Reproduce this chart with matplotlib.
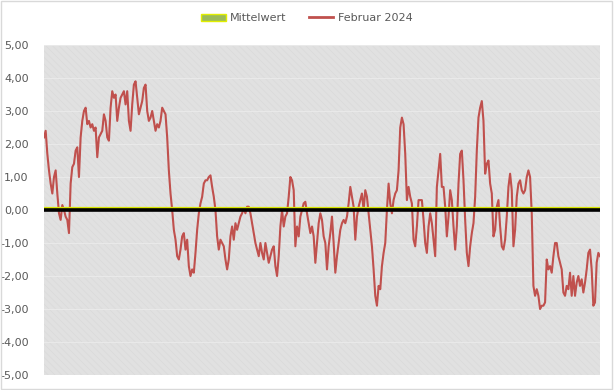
import matplotlib.pyplot as plt
import matplotlib.patches as mpatches
from matplotlib.lines import Line2D
from matplotlib.ticker import FuncFormatter
import numpy as np

seg1 = [2.2, 2.4, 1.7, 1.2, 0.8, 0.5, 1.0, 1.2, 0.5, -0.1, -0.3, 0.15, 0.0, -0.2, -0.3, -0.7,
        0.8, 1.3, 1.4, 1.8, 1.9, 1.0, 2.2, 2.7, 3.0, 3.1, 2.6, 2.7, 2.5, 2.6, 2.4, 2.5,
        1.6, 2.2, 2.3, 2.4, 2.9, 2.7, 2.2, 2.1, 3.1, 3.6, 3.4, 3.5, 2.7, 3.1, 3.4, 3.5]
seg2 = [3.6, 3.2, 3.6, 2.7, 2.4, 3.2, 3.8, 3.9, 3.4, 2.9, 3.1, 3.3, 3.7, 3.8, 3.0, 2.7,
        2.8, 3.0, 2.7, 2.4, 2.6, 2.5, 2.7, 3.1, 3.0, 2.9, 2.2, 1.2, 0.5, 0.0, -0.6, -0.9,
        -1.4, -1.5, -1.2, -0.8, -0.7, -1.2, -0.9, -1.7, -2.0, -1.8, -1.9, -1.3, -0.6, -0.1, 0.2, 0.4]
seg3 = [0.8, 0.9, 0.9, 1.0, 1.05, 0.7, 0.4, 0.0, -0.8, -1.2, -0.9, -1.0, -1.1, -1.5, -1.8, -1.5,
        -0.8, -0.5, -0.9, -0.4, -0.6, -0.4, -0.2, -0.1, 0.05, -0.1, 0.1, 0.1, -0.1, -0.4, -0.7, -1.0,
        -1.2, -1.4, -1.0, -1.3, -1.5, -1.0, -1.3, -1.6, -1.4, -1.2, -1.1, -1.7, -2.0, -1.4, -0.5, 0.0]
seg4 = [-0.5, -0.2, -0.1, 0.4, 1.0, 0.9, 0.6, -1.1, -0.5, -0.8, -0.2, 0.0, 0.2, 0.25, -0.1, -0.4,
        -0.7, -0.5, -0.8, -1.6, -1.0, -0.4, -0.1, -0.3, -0.8, -1.0, -1.8, -1.1, -0.7, -0.2, -1.0, -1.9,
        -1.4, -1.0, -0.6, -0.4, -0.3, -0.4, -0.2, 0.2, 0.7, 0.4, 0.1, -0.9, -0.2, 0.1, 0.3, 0.5]
seg5 = [0.0, 0.6, 0.4, -0.1, -0.6, -1.1, -1.8, -2.6, -2.9, -2.3, -2.4, -1.7, -1.3, -1.0, 0.0, 0.8,
        0.2, -0.1, 0.3, 0.5, 0.6, 1.2, 2.5, 2.8, 2.6, 1.7, 0.3, 0.7, 0.4, 0.2, -0.9, -1.1,
        -0.5, 0.3, 0.3, 0.3, -0.3, -1.0, -1.3, -0.5, -0.1, -0.4, -0.9, -1.4, 0.7, 1.2, 1.7, 0.7]
seg6 = [0.7, 0.1, -0.8, -0.2, 0.6, 0.3, -0.5, -1.2, -0.5, 0.8, 1.7, 1.8, 0.9, -0.3, -1.3, -1.7,
        -1.1, -0.7, -0.4, 0.4, 1.8, 2.8, 3.1, 3.3, 2.7, 1.1, 1.4, 1.5, 0.8, 0.5, -0.8, -0.6,
        0.1, 0.3, -0.5, -1.1, -1.2, -0.9, -0.2, 0.7, 1.1, 0.6, -1.1, -0.6, 0.4, 0.8, 0.9, 0.6]
seg7 = [0.5, 0.6, 1.0, 1.2, 1.0, -0.1, -2.3, -2.6, -2.4, -2.6, -3.0, -2.9, -2.9, -2.8, -1.5, -1.8,
        -1.7, -1.9, -1.4, -1.0, -1.0, -1.4, -1.6, -1.8, -2.5, -2.6, -2.3, -2.4, -1.9, -2.6, -2.0, -2.6,
        -2.2, -2.0, -2.3, -2.1, -2.5, -2.2, -1.8, -1.3, -1.2, -1.8, -2.9, -2.8, -1.6, -1.3, -1.4]
februar = seg1 + seg2 + seg3 + seg4 + seg5 + seg6 + seg7
mittelwert = 0.0
y_ticks = [5, 4, 3, 2, 1, 0, -1, -2, -3, -4, -5]

fig = plt.figure(figsize=(6.14, 3.90), dpi=100)
ax = fig.add_axes([44 / 614, 15 / 390, 556 / 614, 330 / 390])

plt.rcParams['hatch.linewidth'] = 0.5
ax.set_facecolor('#e1e1e1')
ax.add_patch(mpatches.Rectangle((0, 0), 1, 1, transform=ax.transAxes, facecolor='none',
                                edgecolor='#dadada', hatch='\\\\\\\\\\', lw=0, zorder=0))

x = np.arange(len(februar))
for t in y_ticks:
    ax.axhline(t, color='#e9e9e9', lw=0.8, zorder=1)

ax.plot(x, februar, color='#c0504d', lw=1.5, zorder=3)
ax.axhline(mittelwert + 0.06, color='#d8e600', lw=1.6, zorder=4)
ax.axhline(0, color='black', lw=2.6, zorder=5)

ax.set_xlim(0, len(februar) - 1)
ax.set_ylim(-5, 5)
ax.set_xticks([])
ax.set_yticks(y_ticks)
ax.yaxis.set_major_formatter(FuncFormatter(lambda v, p: f"{v:.2f}".replace('.', ',')))
ax.tick_params(axis='y', length=0, labelsize=8, labelcolor='#595959', pad=11)
for s in ax.spines.values():
    s.set_visible(False)

handles = [mpatches.Patch(facecolor='#9bbb59', edgecolor='#e2ef00', lw=1),
           Line2D([], [], color='#c0504d', lw=2)]
fig.legend(handles, ['Mittelwert', 'Februar 2024'], loc='center', bbox_to_anchor=(0.5, 1 - 18 / 390),
           ncol=2, frameon=False, fontsize=8, labelcolor='#595959', handlelength=2.2,
           handleheight=0.6, columnspacing=2.0, handletextpad=0.4)

fig.add_artist(mpatches.Rectangle((0.002, 0.003), 0.995, 0.994, transform=fig.transFigure,
                                  facecolor='none', edgecolor='#d9d9d9', lw=1))

fig.savefig('out.png', dpi=100, facecolor='white')
